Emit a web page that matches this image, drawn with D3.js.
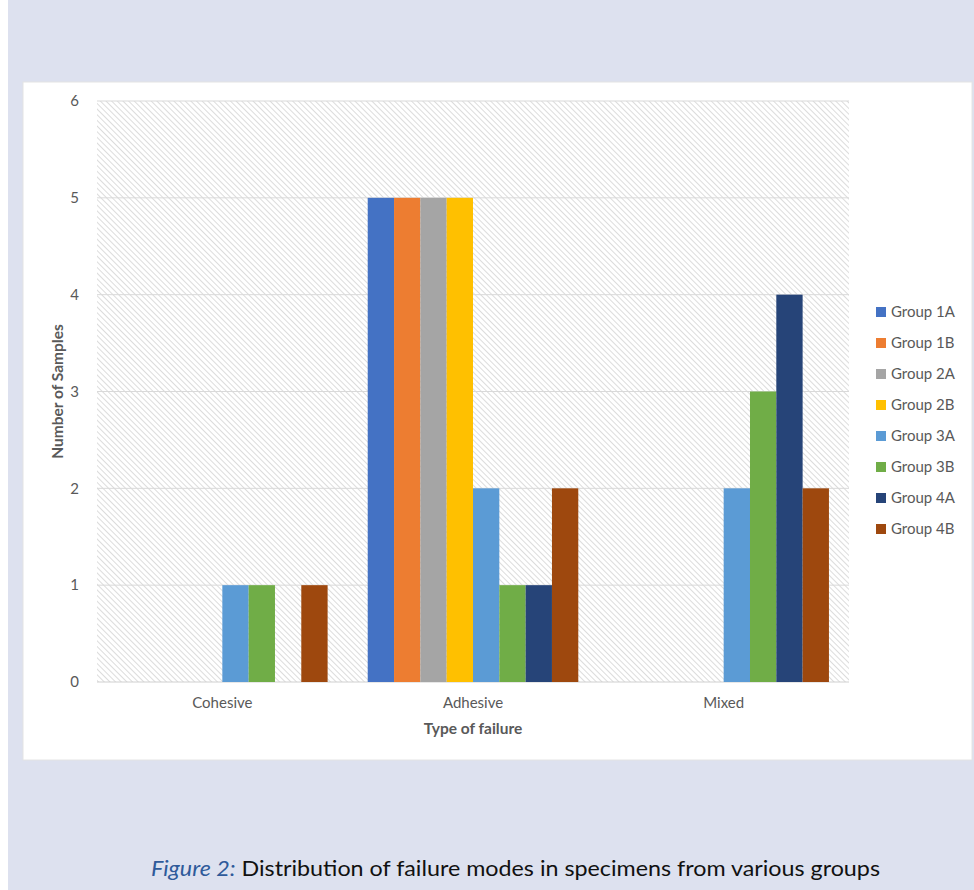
<!DOCTYPE html>
<html>
<head>
<meta charset="utf-8">
<script src="https://cdn.jsdelivr.net/npm/d3@7"></script>
<style>
  html, body { margin: 0; padding: 0; background: #fff; }
  svg { display: block; }
</style>
</head>
<body>
<svg id="chart" width="974" height="890"></svg>
<script>
const categories = ["Cohesive", "Adhesive", "Mixed"];
const groups = ["Group 1A", "Group 1B", "Group 2A", "Group 2B", "Group 3A", "Group 3B", "Group 4A", "Group 4B"];
const colors = ["#4472C4", "#ED7D31", "#A5A5A5", "#FFC000", "#5B9BD5", "#70AD47", "#264478", "#9E480E"];
// values per category, in group order
const cohesive = [0, 0, 0, 0, 1, 1, 0, 1];
const adhesive = [5, 5, 5, 5, 2, 1, 1, 2];
const mixed    = [0, 0, 0, 0, 2, 3, 4, 2];
const yTicks = [0, 1, 2, 3, 4, 5, 6];

const table = [cohesive, adhesive, mixed];
const font = "Lato, 'Open Sans', sans-serif";

const svg = d3.select("#chart");

// page background and white panel
svg.append("rect").attr("x", 8).attr("y", 0).attr("width", 966).attr("height", 890).attr("fill", "#dde1ef");
svg.append("rect").attr("x", 23).attr("y", 82).attr("width", 949).attr("height", 678)
  .attr("fill", "#fff").attr("stroke", "#e4e4e4").attr("stroke-width", 1);

const margin = { left: 97, top: 101, right: 849, bottom: 682 };

const defs = svg.append("defs");
const pat = defs.append("pattern")
  .attr("id", "hatch")
  .attr("patternUnits", "userSpaceOnUse")
  .attr("width", 4).attr("height", 4)
  .attr("patternTransform", "rotate(45)");
pat.append("rect").attr("width", 4).attr("height", 4).attr("fill", "#fff");
pat.append("line").attr("x1", 0).attr("y1", 0).attr("x2", 4).attr("y2", 0)
  .attr("stroke", "#dcdcdc").attr("stroke-width", 2);

const x0 = d3.scaleBand().domain(categories).range([margin.left, margin.right]).padding(0);
const x1 = d3.scaleBand().domain(groups)
  .range([x0.bandwidth() * 0.08, x0.bandwidth() * 0.92]).padding(0);
const y = d3.scaleLinear().domain([0, 6]).range([margin.bottom, margin.top]);

// hatched plot area
svg.append("rect")
  .attr("x", margin.left).attr("y", margin.top)
  .attr("width", margin.right - margin.left).attr("height", margin.bottom - margin.top)
  .attr("fill", "url(#hatch)");

// gridlines
svg.append("g").selectAll("line")
  .data(yTicks)
  .enter().append("line")
  .attr("x1", margin.left).attr("x2", margin.right)
  .attr("y1", d => y(d)).attr("y2", d => y(d))
  .attr("stroke", d => d === 0 ? "#d0d0d0" : "#d9d9d9")
  .attr("stroke-width", 1);

// y tick labels
const yAxis = d3.axisLeft(y).tickValues(yTicks).tickSize(0).tickPadding(18).tickFormat(d3.format("d"));
svg.append("g")
  .attr("transform", `translate(${margin.left},0)`)
  .call(yAxis)
  .call(g => g.select(".domain").remove())
  .selectAll("text")
  .attr("font-family", font).attr("font-size", 15).attr("fill", "#595959");

// x tick labels
const xAxis = d3.axisBottom(x0).tickSize(0).tickPadding(15);
svg.append("g")
  .attr("transform", `translate(0,${margin.bottom})`)
  .call(xAxis)
  .call(g => g.select(".domain").remove())
  .selectAll("text")
  .attr("font-family", font).attr("font-size", 15).attr("fill", "#595959");

// bars
categories.forEach((cat, ci) => {
  const g = svg.append("g").attr("transform", `translate(${x0(cat)},0)`);
  g.selectAll("rect")
    .data(table[ci].map((v, i) => ({ group: groups[i], value: v, color: colors[i] })).filter(d => d.value > 0))
    .enter().append("rect")
    .attr("x", d => x1(d.group))
    .attr("width", x1.bandwidth())
    .attr("y", d => y(d.value))
    .attr("height", d => y(0) - y(d.value))
    .attr("fill", d => d.color);
});

// axis titles
svg.append("text")
  .attr("transform", `translate(63,${(margin.top + margin.bottom) / 2}) rotate(-90)`)
  .attr("text-anchor", "middle")
  .attr("font-family", font).attr("font-size", 15.5).attr("font-weight", "bold")
  .attr("fill", "#595959")
  .text("Number of Samples");

svg.append("text")
  .attr("x", (margin.left + margin.right) / 2).attr("y", 734)
  .attr("text-anchor", "middle")
  .attr("font-family", font).attr("font-size", 15.5).attr("font-weight", "bold")
  .attr("fill", "#595959")
  .text("Type of failure");

// legend
const legend = svg.append("g").attr("transform", "translate(876,312)");
groups.forEach((gName, i) => {
  const yOff = i * 31;
  legend.append("rect")
    .attr("x", 0).attr("y", yOff - 5)
    .attr("width", 10).attr("height", 10)
    .attr("fill", colors[i]);
  legend.append("text")
    .attr("x", 15).attr("y", yOff)
    .attr("dy", "0.35em")
    .attr("font-family", font).attr("font-size", 15)
    .attr("fill", "#595959")
    .text(gName);
});

// caption
const cap = svg.append("text")
  .attr("x", 151).attr("y", 876)
  .attr("font-family", font).attr("font-size", 22)
  .attr("textLength", 729).attr("lengthAdjust", "spacingAndGlyphs");
cap.append("tspan").attr("font-style", "italic").attr("fill", "#2e5a9a").text("Figure 2:");
cap.append("tspan").attr("fill", "#111").text(" Distribution of failure modes in specimens from various groups");
</script>
</body>
</html>
